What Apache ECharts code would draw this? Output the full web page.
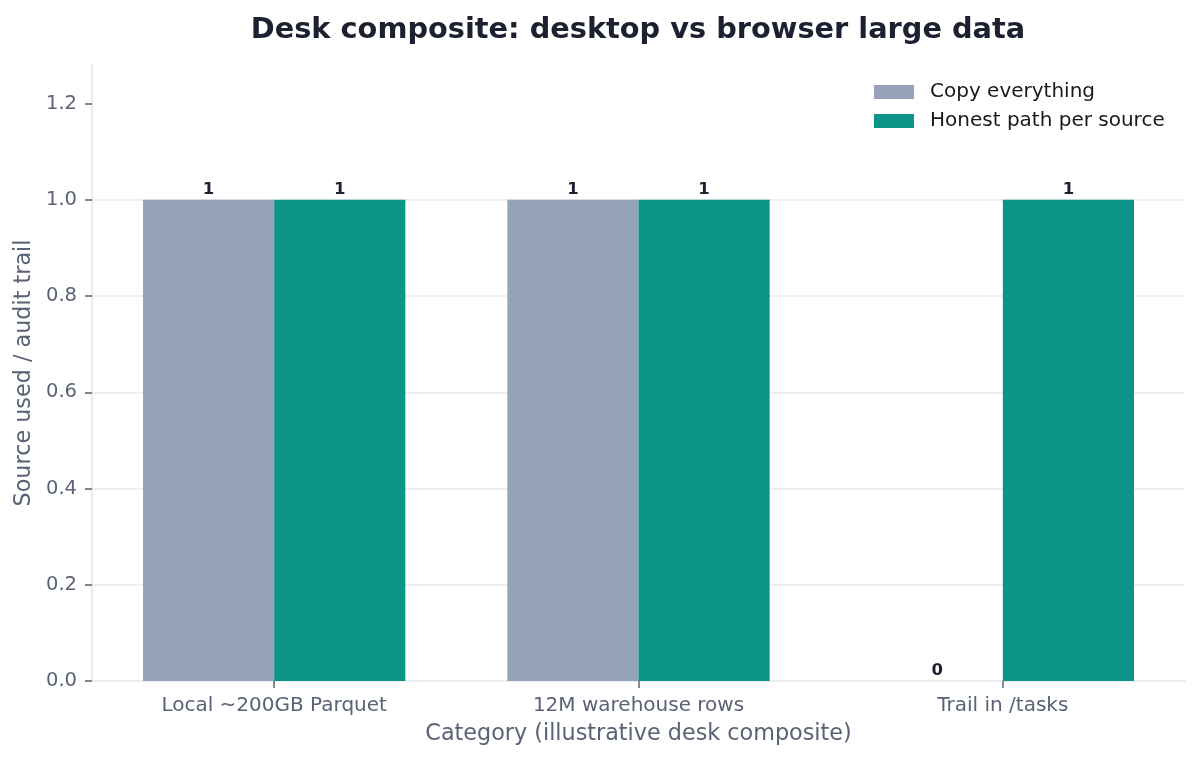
<!DOCTYPE html>
<html>
<head>
<meta charset="utf-8">
<script src="https://cdn.jsdelivr.net/npm/echarts@6/dist/echarts.min.js"></script>
<style>html,body{margin:0;padding:0;background:#fff}#c{width:1199px;height:760px}</style>
</head>
<body>
<div id="c"></div>
<script>
const categories = ['Local ~200GB Parquet', '12M warehouse rows', 'Trail in /tasks'];
const copyEverything = [1, 1, 0];
const honestPath = [1, 1, 1];
const yTicks = [0, 0.2, 0.4, 0.6, 0.8, 1.0, 1.2];
const seriesNames = ['Copy everything', 'Honest path per source'];

const FONT = 'DejaVu Sans';
const tickColor = '#5a6275';
const spineColor = '#e5e7eb';
const darkText = '#1c2030';

const chart = echarts.init(document.getElementById('c'), null, {renderer: 'canvas'});
const labelCfg = {
  show: true, position: 'top', distance: 2,
  fontFamily: FONT, fontWeight: 'bold', fontSize: 16.5, color: darkText
};
chart.setOption({
  animation: false,
  textStyle: {fontFamily: FONT},
  title: {
    text: 'Desk composite: desktop vs browser large data',
    left: 638, top: 16, padding: 0, textAlign: 'center',
    textStyle: {fontFamily: FONT, fontSize: 28.8, fontWeight: 'bold', color: darkText}
  },
  legend: {
    orient: 'vertical', left: 874, top: 82, padding: 0,
    itemWidth: 40, itemHeight: 14, itemGap: 9, icon: 'rect',
    textStyle: {fontFamily: FONT, fontSize: 20, color: '#1a1a1a', padding: [0, 0, 0, 11]},
    data: seriesNames
  },
  grid: {left: 92, right: 14, top: 65, bottom: 79, containLabel: false},
  xAxis: {
    type: 'category', data: categories, boundaryGap: true,
    name: 'Category (illustrative desk composite)', nameLocation: 'middle', nameGap: 42,
    nameTextStyle: {fontFamily: FONT, fontSize: 22.3, color: tickColor},
    axisLine: {show: true, lineStyle: {color: spineColor, width: 1.6}},
    axisTick: {show: true, alignWithLabel: true, length: 7, lineStyle: {color: tickColor, width: 1.5}},
    axisLabel: {fontFamily: FONT, fontSize: 20, color: tickColor, margin: 15},
    splitLine: {show: false}
  },
  yAxis: {
    type: 'value', min: 0, max: 1.28, interval: 0.2,
    name: 'Source used / audit trail', nameLocation: 'middle', nameGap: 57,
    nameTextStyle: {fontFamily: FONT, fontSize: 22.3, color: tickColor},
    axisLine: {show: true, lineStyle: {color: spineColor, width: 1.6}},
    axisTick: {show: true, length: 7, lineStyle: {color: tickColor, width: 1.5}, customValues: yTicks},
    axisLabel: {fontFamily: FONT, fontSize: 19.5, color: tickColor, margin: 15,
      customValues: yTicks, formatter: v => v.toFixed(1)},
    splitLine: {show: true, showMinLine: false, showMaxLine: false, lineStyle: {color: '#e8eaee', width: 1.6}}
  },
  series: [
    {name: seriesNames[0], type: 'bar', data: copyEverything, barWidth: '36%', barGap: '0%',
     itemStyle: {color: '#94a3b8'}, label: labelCfg},
    {name: seriesNames[1], type: 'bar', data: honestPath, barWidth: '36%', barGap: '0%',
     itemStyle: {color: '#0d9488'}, label: labelCfg}
  ]
});
</script>
</body>
</html>
